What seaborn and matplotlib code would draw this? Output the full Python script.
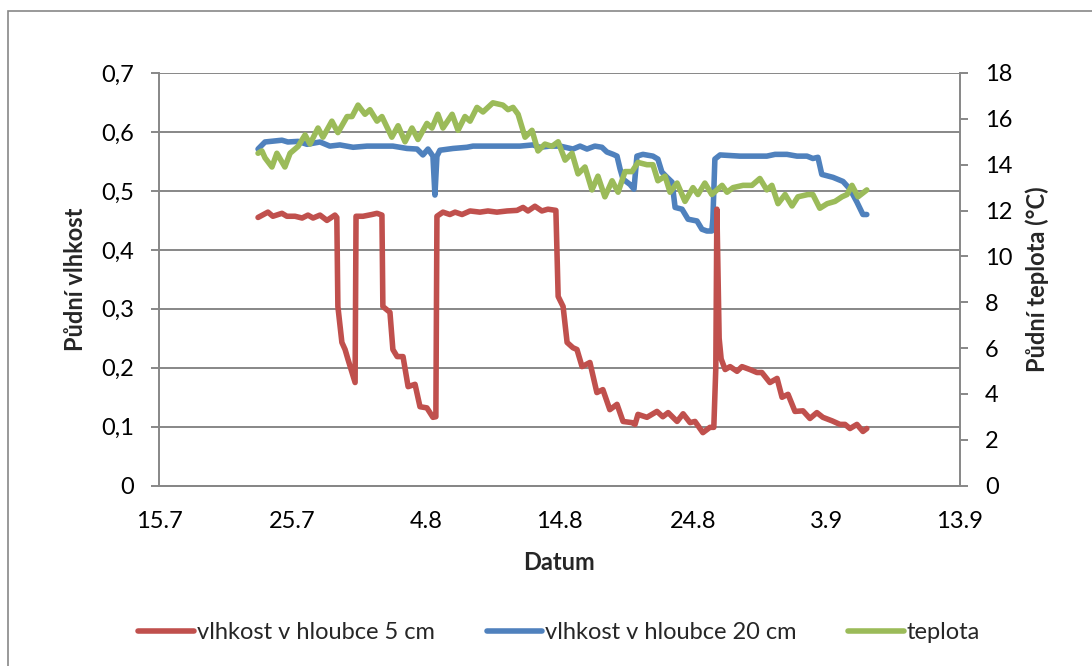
import matplotlib
matplotlib.use("Agg")
import matplotlib.pyplot as plt
from matplotlib.patches import Rectangle
import pandas as pd
import seaborn as sns

# den 0 = 15.7.
red_day = [7.42, 8.16, 8.53, 9.21, 9.58, 10.19, 10.72, 11.16, 11.54, 12.06, 12.58, 13.18, 13.32,
           13.40, 13.70, 13.94, 14.16, 14.69, 14.76, 15.28, 15.95, 16.33, 16.70, 16.77, 17.30, 17.52,
           17.84, 18.28, 18.66, 19.18, 19.55, 20.07, 20.52, 20.74, 20.82, 21.27, 21.79, 22.18, 22.70,
           23.30, 24.04, 24.64, 25.31, 26.08, 26.82, 27.27, 27.64, 28.16, 28.68, 29.13, 29.73, 29.90,
           30.27, 30.57, 31.01, 31.31, 31.69, 32.28, 32.80, 33.25, 33.77, 34.31, 34.76, 35.43, 35.66,
           35.88, 36.55, 37.30, 37.74, 38.14, 38.81, 39.26, 39.78, 40.15, 40.74, 41.27, 41.56, 41.71,
           41.79, 41.96, 42.11, 42.41, 42.78, 43.30, 43.67, 44.27, 44.79, 45.16, 45.76, 46.30, 46.67,
           47.12, 47.64, 48.24, 48.76, 49.28, 49.73, 50.42, 51.01, 51.39, 51.76, 52.28, 52.73, 53.02]
red_val = [.455, .464, .457, .462, .457, .457, .454, .459, .454, .459, .450, .459, .455,
           .304, .243, .231, .214, .175, .457, .457, .460, .462, .459, .304, .294, .231,
           .219, .219, .168, .172, .134, .132, .116, .117, .457, .464, .460, .464, .460,
           .466, .464, .466, .464, .466, .467, .472, .466, .474, .466, .469, .467, .321,
           .304, .243, .234, .231, .202, .209, .158, .163, .129, .138, .109, .107, .104,
           .121, .116, .126, .117, .124, .109, .122, .107, .109, .090, .099, .099, .200,
           .469, .250, .215, .197, .202, .194, .202, .197, .192, .192, .175, .182, .150,
           .155, .126, .127, .114, .124, .116, .110, .104, .104, .097, .104, .092, .097]

blue_day = [7.42, 7.94, 9.21, 9.65, 10.42, 11.09, 12.06, 12.80, 13.55, 14.54, 15.58, 16.55, 17.52,
            18.58, 19.33, 19.77, 20.15, 20.52, 20.67, 20.82, 21.04, 22.03, 23.07, 23.52, 25.01, 26.08,
            27.04, 28.01, 28.53, 29.28, 30.05, 31.01, 31.54, 32.06, 32.65, 33.18, 33.55, 34.02, 34.31,
            34.54, 34.76, 35.28, 35.58, 35.80, 36.25, 37.00, 37.37, 37.67, 38.06, 38.43, 38.66, 39.18,
            39.63, 40.30, 40.67, 41.04, 41.41, 41.49, 41.64, 42.03, 43.52, 44.49, 45.53, 46.15, 47.04,
            47.79, 48.54, 48.98, 49.36, 49.65, 50.49, 51.24, 51.76, 52.28, 52.73, 53.02]
blue_val = [.571, .583, .586, .583, .584, .579, .583, .576, .578, .574, .576, .576, .576,
            .572, .571, .561, .571, .559, .493, .559, .569, .572, .574, .576, .576, .576,
            .576, .578, .574, .576, .576, .571, .576, .571, .576, .574, .566, .562, .559,
            .537, .520, .511, .503, .559, .562, .559, .554, .532, .523, .515, .472, .469,
            .452, .449, .435, .432, .432, .452, .554, .561, .559, .559, .559, .562, .562,
            .559, .559, .555, .557, .528, .523, .516, .503, .481, .460, .460]

green_day = [7.42, 7.71, 7.94, 8.46, 8.83, 9.43, 9.82, 10.42, 10.94, 11.31, 11.91, 12.28, 12.95,
             13.40, 14.09, 14.46, 14.91, 15.43, 15.80, 16.33, 16.70, 17.44, 17.91, 18.43, 18.95,
             19.40, 20.07, 20.45, 20.89, 21.27, 21.96, 22.40, 22.92, 23.30, 23.82, 24.27, 25.01,
             25.76, 26.15, 26.52, 26.90, 27.42, 27.94, 28.39, 28.91, 29.43, 29.90, 30.42, 30.94,
             31.39, 31.91, 32.43, 32.88, 33.40, 33.94, 34.39, 34.91, 35.43, 35.88, 36.55, 37.00,
             37.37, 37.91, 38.28, 38.81, 39.40, 40.00, 40.37, 40.89, 41.41, 42.18, 42.55, 43.00,
             43.75, 44.42, 45.01, 45.53, 45.91, 46.37, 46.90, 47.42, 47.86, 48.61, 48.98, 49.50,
             50.05, 50.64, 51.16, 51.54, 51.91, 52.36, 53.02]
green_val = [14.5, 14.6, 14.3, 13.9, 14.5, 13.9, 14.5, 14.8, 15.3, 14.9, 15.6, 15.2, 15.9,
             15.4, 16.1, 16.1, 16.6, 16.2, 16.4, 15.9, 16.1, 15.2, 15.7, 15.0, 15.6,
             15.1, 15.8, 15.6, 16.2, 15.6, 16.2, 15.5, 16.1, 15.9, 16.5, 16.3, 16.7,
             16.6, 16.4, 16.5, 16.2, 15.2, 15.5, 14.6, 14.9, 14.8, 15.0, 14.2, 14.5,
             13.6, 13.9, 12.9, 13.5, 12.6, 13.3, 12.8, 13.7, 13.7, 14.1, 14.0, 14.0,
             13.3, 13.5, 12.8, 13.2, 12.4, 13.0, 12.7, 13.2, 12.7, 13.1, 12.8, 13.0,
             13.1, 13.1, 13.4, 12.9, 13.1, 12.3, 12.7, 12.2, 12.6, 12.7, 12.7, 12.1,
             12.3, 12.4, 12.6, 12.7, 13.1, 12.6, 12.9]

x_ticks = [0, 10, 20, 30, 40, 50, 60]
x_labels = ["15.7", "25.7", "4.8", "14.8", "24.8", "3.9", "13.9"]
y1_ticks = [0, 0.1, 0.2, 0.3, 0.4, 0.5, 0.6, 0.7]
y1_labels = ["0", "0,1", "0,2", "0,3", "0,4", "0,5", "0,6", "0,7"]
y2_ticks = [0, 2, 4, 6, 8, 10, 12, 14, 16, 18]

names = ["vlhkost v hloubce 5 cm", "vlhkost v hloubce 20 cm", "teplota"]
colors = ["#C0504D", "#4F81BD", "#9BBB59"]

sns.set_style("white")
plt.rcParams["font.family"] = ["Lato", "DejaVu Sans"]
grey = "#878787"
fs = 17
lw = 4.0

fig = plt.figure(figsize=(10.92, 6.66), dpi=100)
ax = fig.add_axes([0.1456, 0.2707, 0.7335, 0.6197])

red = pd.DataFrame({"den": red_day, "v": red_val})
blue = pd.DataFrame({"den": blue_day, "v": blue_val})
green = pd.DataFrame({"den": green_day, "t": green_val})

sns.lineplot(data=blue, x="den", y="v", ax=ax, color=colors[1], linewidth=lw,
             estimator=None, label=names[1])
sns.lineplot(data=red, x="den", y="v", ax=ax, color=colors[0], linewidth=lw,
             estimator=None, label=names[0])

ax.set_xlim(0, 60)
ax.set_ylim(0, 0.7)
ax.set_xticks(x_ticks)
ax.set_xticklabels(x_labels)
ax.set_yticks(y1_ticks)
ax.set_yticklabels(y1_labels)
ax.yaxis.grid(True, color=grey, linewidth=1.4)
ax.set_axisbelow(True)
ax.set_xlabel("Datum", fontsize=fs, fontweight="bold", labelpad=14)
ax.set_ylabel("Půdní vlhkost", fontsize=fs, fontweight="bold", labelpad=10)

ax2 = ax.twinx()
sns.lineplot(data=green, x="den", y="t", ax=ax2, color=colors[2], linewidth=lw,
             estimator=None, label=names[2])
ax2.set_ylim(0, 18)
ax2.set_yticks(y2_ticks)
ax2.set_ylabel("Půdní teplota (°C)", fontsize=fs, fontweight="bold", labelpad=9)

for a in (ax, ax2):
    a.spines["top"].set_visible(False)
    for s in ("left", "right", "bottom"):
        a.spines[s].set_color(grey)
        a.spines[s].set_linewidth(1.4)
    a.tick_params(axis="both", which="major", labelsize=fs, color=grey, width=1.4,
                  length=6, direction="out", labelcolor="black")
ax.spines["right"].set_visible(False)
ax2.spines["left"].set_visible(False)
ax.tick_params(axis="y", pad=12)
ax.tick_params(axis="x", pad=12)
ax2.tick_params(axis="y", pad=12)

h1, l1 = ax.get_legend_handles_labels()
h2, l2 = ax2.get_legend_handles_labels()
ax.get_legend().remove()
ax2.get_legend().remove()
hd = dict(zip(l1 + l2, h1 + h2))
fig.legend([hd[n] for n in names], names, loc="center", bbox_to_anchor=(0.512, 0.05),
           ncol=3, frameon=False, fontsize=fs, handlelength=2.35, handletextpad=0.12,
           columnspacing=2.2)

fig.add_artist(Rectangle((0.0073, -0.05), 1.1, 1.034, transform=fig.transFigure,
                         fill=False, edgecolor=grey, linewidth=1.2))

fig.savefig("out.png", dpi=100)
